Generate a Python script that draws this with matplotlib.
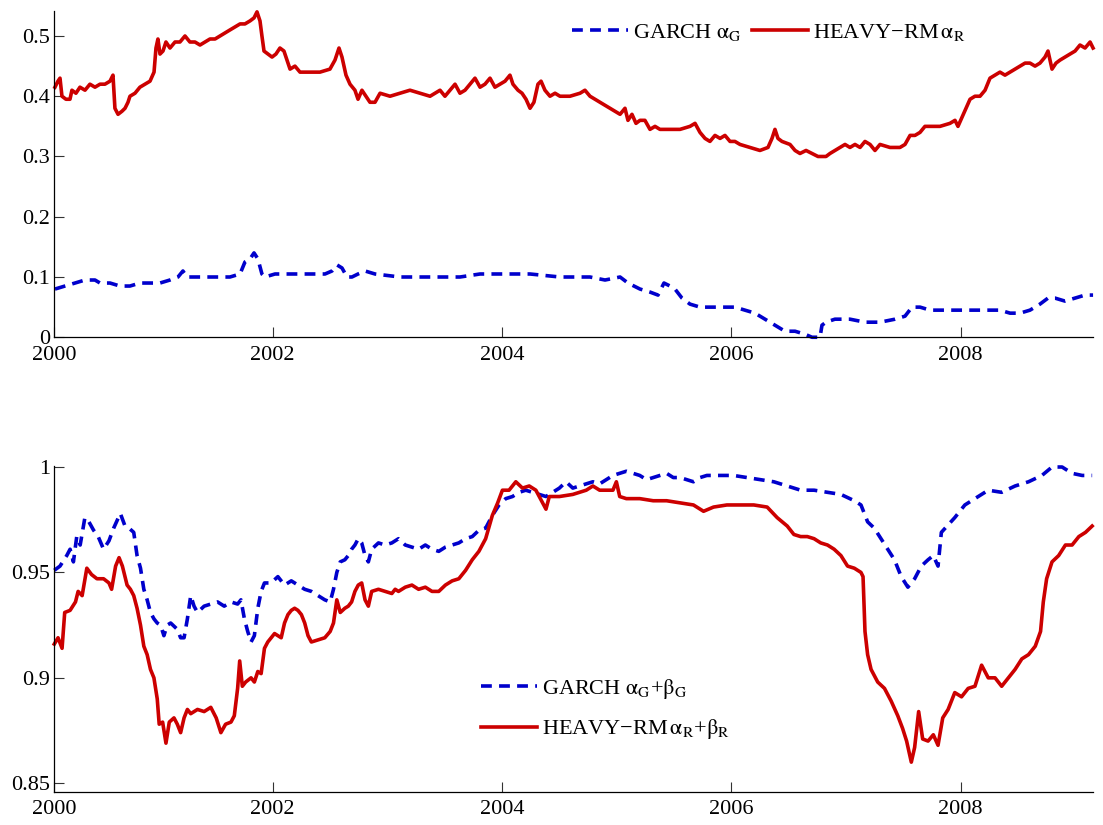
import matplotlib
matplotlib.use("Agg")
import matplotlib.pyplot as plt
from matplotlib.ticker import FixedLocator, FixedFormatter

plt.rcParams['font.family'] = ['Liberation Serif', 'DejaVu Serif']
plt.rcParams['mathtext.fontset'] = 'stix'

# ---------------- data (decimal years, values) ----------------
top_heavy_t = [2000.101, 2000.127, 2000.145, 2000.162, 2000.197, 2000.232, 2000.249, 2000.284, 2000.319, 2000.363,
               2000.406, 2000.450, 2000.494, 2000.537, 2000.581, 2000.607, 2000.624, 2000.651, 2000.685, 2000.712,
               2000.738, 2000.755, 2000.799, 2000.842, 2000.886, 2000.930, 2000.965, 2000.982, 2000.999, 2001.017,
               2001.043, 2001.069, 2001.104, 2001.148, 2001.191, 2001.235, 2001.278, 2001.322, 2001.366, 2001.409,
               2001.453, 2001.497, 2001.540, 2001.584, 2001.627, 2001.671, 2001.715, 2001.758, 2001.802, 2001.837,
               2001.863, 2001.889, 2001.906, 2001.924, 2001.959, 2001.994, 2002.028, 2002.063, 2002.098, 2002.124,
               2002.151, 2002.194, 2002.238, 2002.325, 2002.412, 2002.499, 2002.543, 2002.578, 2002.604, 2002.639,
               2002.674, 2002.717, 2002.744, 2002.778, 2002.813, 2002.848, 2002.892, 2002.936, 2003.023, 2003.110,
               2003.197, 2003.284, 2003.372, 2003.459, 2003.502, 2003.546, 2003.590, 2003.633, 2003.677, 2003.720,
               2003.764, 2003.808, 2003.851, 2003.895, 2003.938, 2003.982, 2004.026, 2004.069, 2004.095, 2004.139,
               2004.174, 2004.209, 2004.244, 2004.278, 2004.313, 2004.340, 2004.374, 2004.418, 2004.462, 2004.505,
               2004.592, 2004.680, 2004.723, 2004.767, 2004.810, 2004.854, 2004.898, 2004.941, 2004.985, 2005.029,
               2005.072, 2005.098, 2005.133, 2005.168, 2005.203, 2005.246, 2005.290, 2005.334, 2005.377, 2005.465,
               2005.552, 2005.639, 2005.683, 2005.726, 2005.770, 2005.813, 2005.857, 2005.901, 2005.944, 2005.988,
               2006.031, 2006.075, 2006.162, 2006.249, 2006.319, 2006.354, 2006.380, 2006.406, 2006.441, 2006.511,
               2006.555, 2006.598, 2006.651, 2006.703, 2006.755, 2006.790, 2006.825, 2006.860, 2006.903, 2006.947,
               2006.991, 2007.034, 2007.078, 2007.122, 2007.165, 2007.209, 2007.252, 2007.296, 2007.383, 2007.470,
               2007.514, 2007.558, 2007.601, 2007.645, 2007.688, 2007.732, 2007.819, 2007.906, 2007.950, 2007.976,
               2008.011, 2008.046, 2008.081, 2008.124, 2008.168, 2008.212, 2008.255, 2008.299, 2008.342, 2008.386,
               2008.430, 2008.473, 2008.517, 2008.561, 2008.604, 2008.648, 2008.691, 2008.735, 2008.761, 2008.796,
               2008.831, 2008.866, 2008.909, 2008.953, 2008.997, 2009.040, 2009.084, 2009.128, 2009.154]
top_heavy_v = [0.415, 0.425, 0.43, 0.40, 0.395, 0.395, 0.41, 0.405, 0.415, 0.41,
               0.42, 0.415, 0.42, 0.42, 0.425, 0.435, 0.38, 0.37, 0.375, 0.38,
               0.39, 0.40, 0.405, 0.415, 0.42, 0.425, 0.44, 0.48, 0.495, 0.47,
               0.475, 0.49, 0.48, 0.49, 0.49, 0.50, 0.49, 0.49, 0.485, 0.49,
               0.495, 0.495, 0.50, 0.505, 0.51, 0.515, 0.52, 0.52, 0.525, 0.53,
               0.54, 0.525, 0.50, 0.475, 0.47, 0.465, 0.47, 0.48, 0.475, 0.46,
               0.445, 0.45, 0.44, 0.44, 0.44, 0.445, 0.46, 0.48, 0.465, 0.435,
               0.42, 0.41, 0.395, 0.41, 0.40, 0.39, 0.39, 0.405, 0.40, 0.405,
               0.41, 0.405, 0.40, 0.41, 0.40, 0.41, 0.42, 0.405, 0.41, 0.42,
               0.43, 0.415, 0.42, 0.43, 0.415, 0.42, 0.425, 0.435, 0.42, 0.41,
               0.405, 0.395, 0.38, 0.39, 0.42, 0.425, 0.41, 0.40, 0.405, 0.40,
               0.40, 0.405, 0.41, 0.40, 0.395, 0.39, 0.385, 0.38, 0.375, 0.37,
               0.38, 0.36, 0.37, 0.355, 0.36, 0.36, 0.345, 0.35, 0.345, 0.345,
               0.345, 0.35, 0.355, 0.34, 0.33, 0.325, 0.335, 0.33, 0.335, 0.325,
               0.325, 0.32, 0.315, 0.31, 0.315, 0.33, 0.345, 0.33, 0.325, 0.32,
               0.31, 0.305, 0.31, 0.305, 0.30, 0.30, 0.30, 0.305, 0.31, 0.315,
               0.32, 0.315, 0.32, 0.315, 0.325, 0.32, 0.31, 0.32, 0.315, 0.315,
               0.32, 0.335, 0.335, 0.34, 0.35, 0.35, 0.35, 0.355, 0.36, 0.35,
               0.365, 0.38, 0.395, 0.40, 0.40, 0.41, 0.43, 0.435, 0.44, 0.435,
               0.44, 0.445, 0.45, 0.455, 0.455, 0.45, 0.455, 0.465, 0.475, 0.445,
               0.455, 0.46, 0.465, 0.47, 0.475, 0.485, 0.48, 0.49, 0.48]

top_garch_t = [2000.101, 2000.188, 2000.276, 2000.363, 2000.450, 2000.494, 2000.581, 2000.668, 2000.755, 2000.842,
               2000.930, 2001.017, 2001.104, 2001.174, 2001.217, 2001.252, 2001.322, 2001.453, 2001.627, 2001.715,
               2001.758, 2001.802, 2001.837, 2001.871, 2001.906, 2001.932, 2002.020, 2002.151, 2002.325, 2002.456,
               2002.517, 2002.561, 2002.604, 2002.648, 2002.691, 2002.744, 2002.805, 2002.892, 2003.110, 2003.372,
               2003.633, 2003.808, 2003.982, 2004.244, 2004.505, 2004.767, 2004.898, 2005.029, 2005.098, 2005.203,
               2005.290, 2005.360, 2005.412, 2005.465, 2005.508, 2005.569, 2005.639, 2005.726, 2005.901, 2006.031,
               2006.118, 2006.206, 2006.293, 2006.380, 2006.467, 2006.555, 2006.642, 2006.703, 2006.773, 2006.790,
               2006.825, 2006.903, 2007.034, 2007.165, 2007.296, 2007.427, 2007.514, 2007.575, 2007.645, 2007.732,
               2007.994, 2008.168, 2008.342, 2008.430, 2008.517, 2008.604, 2008.691, 2008.761, 2008.822, 2008.909,
               2008.997, 2009.084, 2009.154]
top_garch_v = [0.08, 0.085, 0.09, 0.095, 0.095, 0.09, 0.09, 0.085, 0.085, 0.09,
               0.09, 0.09, 0.095, 0.10, 0.11, 0.10, 0.10, 0.10, 0.10, 0.105,
               0.125, 0.13, 0.14, 0.13, 0.105, 0.10, 0.105, 0.105, 0.105, 0.105,
               0.11, 0.12, 0.115, 0.10, 0.10, 0.105, 0.11, 0.105, 0.10, 0.10,
               0.10, 0.105, 0.105, 0.105, 0.10, 0.10, 0.095, 0.10, 0.09, 0.08,
               0.075, 0.07, 0.09, 0.085, 0.08, 0.065, 0.055, 0.05, 0.05, 0.05,
               0.045, 0.04, 0.03, 0.02, 0.01, 0.01, 0.005, 0.0, 0.0, 0.02,
               0.025, 0.03, 0.03, 0.025, 0.025, 0.03, 0.035, 0.05, 0.05, 0.045,
               0.045, 0.045, 0.045, 0.04, 0.04, 0.045, 0.055, 0.065, 0.065, 0.06,
               0.065, 0.07, 0.07]

bot_garch_t = [2000.095, 2000.145, 2000.204, 2000.233, 2000.262, 2000.291, 2000.321, 2000.362, 2000.397, 2000.438,
               2000.478, 2000.525, 2000.572, 2000.613, 2000.671, 2000.712, 2000.747, 2000.788, 2000.817, 2000.847,
               2000.876, 2000.905, 2000.934, 2000.964, 2000.993, 2001.022, 2001.051, 2001.080, 2001.110, 2001.168,
               2001.197, 2001.227, 2001.256, 2001.285, 2001.314, 2001.344, 2001.402, 2001.460, 2001.519, 2001.577,
               2001.636, 2001.694, 2001.723, 2001.753, 2001.782, 2001.811, 2001.840, 2001.870, 2001.899, 2001.928,
               2001.986, 2002.045, 2002.103, 2002.162, 2002.220, 2002.279, 2002.337, 2002.396, 2002.454, 2002.501,
               2002.530, 2002.559, 2002.589, 2002.629, 2002.659, 2002.688, 2002.717, 2002.746, 2002.776, 2002.805,
               2002.834, 2002.863, 2002.922, 2002.980, 2003.039, 2003.097, 2003.156, 2003.214, 2003.272, 2003.331,
               2003.389, 2003.448, 2003.506, 2003.565, 2003.623, 2003.682, 2003.740, 2003.798, 2003.857, 2003.915,
               2003.974, 2004.032, 2004.091, 2004.149, 2004.207, 2004.266, 2004.324, 2004.383, 2004.441, 2004.500,
               2004.558, 2004.617, 2004.675, 2004.734, 2004.792, 2004.851, 2004.909, 2004.967, 2005.026, 2005.084,
               2005.143, 2005.201, 2005.260, 2005.318, 2005.377, 2005.435, 2005.493, 2005.552, 2005.610, 2005.669,
               2005.727, 2005.786, 2005.903, 2006.019, 2006.136, 2006.253, 2006.370, 2006.487, 2006.604, 2006.721,
               2006.838, 2006.955, 2007.072, 2007.130, 2007.159, 2007.188, 2007.246, 2007.305, 2007.364, 2007.422,
               2007.481, 2007.539, 2007.598, 2007.656, 2007.715, 2007.761, 2007.802, 2007.831, 2007.948, 2008.036,
               2008.124, 2008.240, 2008.357, 2008.474, 2008.591, 2008.708, 2008.796, 2008.884, 2008.971, 2009.059,
               2009.146]
bot_garch_v = [0.951, 0.953, 0.958, 0.961, 0.955, 0.967, 0.963, 0.976, 0.974, 0.970,
               0.967, 0.961, 0.965, 0.971, 0.978, 0.972, 0.971, 0.969, 0.958, 0.952,
               0.942, 0.937, 0.931, 0.928, 0.926, 0.925, 0.920, 0.925, 0.926, 0.923,
               0.919, 0.919, 0.928, 0.939, 0.934, 0.931, 0.934, 0.935, 0.936, 0.934,
               0.936, 0.935, 0.937, 0.928, 0.922, 0.917, 0.920, 0.933, 0.941, 0.945,
               0.945, 0.948, 0.944, 0.946, 0.944, 0.942, 0.941, 0.939, 0.937, 0.936,
               0.942, 0.950, 0.955, 0.956, 0.958, 0.961, 0.963, 0.966, 0.964, 0.958,
               0.955, 0.961, 0.964, 0.963, 0.964, 0.966, 0.963, 0.962, 0.961, 0.963,
               0.961, 0.960, 0.962, 0.963, 0.964, 0.966, 0.967, 0.970, 0.971, 0.977,
               0.982, 0.985, 0.986, 0.988, 0.989, 0.988, 0.987, 0.986, 0.988, 0.990,
               0.993, 0.990, 0.991, 0.992, 0.993, 0.992, 0.994, 0.996, 0.997, 0.998,
               0.997, 0.996, 0.994, 0.995, 0.996, 0.997, 0.995, 0.995, 0.994, 0.993,
               0.995, 0.996, 0.996, 0.996, 0.995, 0.994, 0.993, 0.991, 0.989, 0.989,
               0.988, 0.987, 0.984, 0.982, 0.978, 0.974, 0.971, 0.966, 0.961, 0.956,
               0.948, 0.943, 0.947, 0.953, 0.956, 0.958, 0.953, 0.969, 0.976, 0.982,
               0.985, 0.989, 0.988, 0.991, 0.993, 0.996, 1.000, 1.000, 0.997, 0.996,
               0.996]

bot_heavy_t = [2000.095, 2000.128, 2000.163, 2000.186, 2000.233, 2000.280, 2000.303, 2000.338, 2000.379, 2000.420,
               2000.467, 2000.525, 2000.572, 2000.595, 2000.630, 2000.660, 2000.689, 2000.730, 2000.759, 2000.788,
               2000.817, 2000.847, 2000.876, 2000.905, 2000.934, 2000.964, 2000.993, 2001.010, 2001.040, 2001.069,
               2001.098, 2001.139, 2001.168, 2001.197, 2001.227, 2001.256, 2001.285, 2001.314, 2001.344, 2001.402,
               2001.460, 2001.507, 2001.548, 2001.589, 2001.636, 2001.665, 2001.694, 2001.712, 2001.735, 2001.764,
               2001.811, 2001.840, 2001.870, 2001.899, 2001.928, 2001.957, 2001.986, 2002.016, 2002.045, 2002.074,
               2002.103, 2002.133, 2002.162, 2002.191, 2002.220, 2002.250, 2002.279, 2002.308, 2002.337, 2002.396,
               2002.454, 2002.501, 2002.530, 2002.559, 2002.589, 2002.629, 2002.659, 2002.688, 2002.717, 2002.746,
               2002.776, 2002.805, 2002.834, 2002.863, 2002.922, 2002.980, 2003.039, 2003.068, 2003.097, 2003.156,
               2003.214, 2003.272, 2003.331, 2003.389, 2003.448, 2003.506, 2003.565, 2003.623, 2003.682, 2003.740,
               2003.798, 2003.857, 2003.915, 2003.962, 2004.003, 2004.061, 2004.120, 2004.178, 2004.237, 2004.295,
               2004.354, 2004.383, 2004.412, 2004.500, 2004.617, 2004.675, 2004.734, 2004.792, 2004.851, 2004.909,
               2004.967, 2004.997, 2005.026, 2005.084, 2005.201, 2005.318, 2005.435, 2005.552, 2005.669, 2005.757,
               2005.844, 2005.961, 2006.078, 2006.195, 2006.312, 2006.399, 2006.487, 2006.545, 2006.604, 2006.662,
               2006.721, 2006.779, 2006.838, 2006.896, 2006.955, 2007.013, 2007.072, 2007.130, 2007.148, 2007.165,
               2007.188, 2007.218, 2007.276, 2007.335, 2007.393, 2007.451, 2007.493, 2007.528, 2007.569, 2007.598,
               2007.633, 2007.668, 2007.715, 2007.761, 2007.802, 2007.843, 2007.890, 2007.948, 2008.007, 2008.065,
               2008.124, 2008.182, 2008.240, 2008.299, 2008.357, 2008.416, 2008.474, 2008.533, 2008.591, 2008.650,
               2008.696, 2008.720, 2008.749, 2008.796, 2008.854, 2008.913, 2008.971, 2009.030, 2009.088, 2009.146]
bot_heavy_v = [0.916, 0.919, 0.914, 0.931, 0.932, 0.936, 0.941, 0.939, 0.952, 0.949,
               0.947, 0.947, 0.945, 0.942, 0.953, 0.957, 0.953, 0.944, 0.942, 0.939,
               0.933, 0.925, 0.915, 0.911, 0.904, 0.900, 0.890, 0.878, 0.879, 0.869,
               0.879, 0.881, 0.878, 0.874, 0.881, 0.885, 0.883, 0.884, 0.885, 0.884,
               0.886, 0.881, 0.874, 0.878, 0.879, 0.882, 0.895, 0.908, 0.896, 0.898,
               0.900, 0.898, 0.903, 0.902, 0.914, 0.917, 0.919, 0.921, 0.920, 0.919,
               0.926, 0.930, 0.932, 0.933, 0.932, 0.930, 0.926, 0.920, 0.917, 0.918,
               0.919, 0.922, 0.926, 0.937, 0.931, 0.933, 0.934, 0.936, 0.941, 0.944,
               0.945, 0.937, 0.934, 0.941, 0.942, 0.941, 0.940, 0.942, 0.941, 0.943,
               0.944, 0.942, 0.943, 0.941, 0.941, 0.944, 0.946, 0.947, 0.951, 0.956,
               0.960, 0.966, 0.977, 0.983, 0.989, 0.989, 0.993, 0.990, 0.991, 0.989,
               0.983, 0.980, 0.986, 0.986, 0.987, 0.988, 0.989, 0.991, 0.989, 0.989,
               0.989, 0.993, 0.986, 0.985, 0.985, 0.984, 0.984, 0.983, 0.982, 0.979,
               0.981, 0.982, 0.982, 0.982, 0.981, 0.976, 0.972, 0.968, 0.967, 0.967,
               0.966, 0.964, 0.963, 0.961, 0.958, 0.953, 0.952, 0.950, 0.948, 0.922,
               0.911, 0.904, 0.898, 0.895, 0.889, 0.882, 0.876, 0.870, 0.860, 0.867,
               0.884, 0.871, 0.870, 0.873, 0.868, 0.881, 0.885, 0.893, 0.891, 0.895,
               0.896, 0.906, 0.900, 0.900, 0.896, 0.900, 0.904, 0.909, 0.911, 0.915,
               0.922, 0.936, 0.947, 0.955, 0.958, 0.963, 0.963, 0.967, 0.969, 0.972]

x_ticks = [2000.095, 2002, 2004, 2006, 2008]
x_ticklabels = ['2000', '2002', '2004', '2006', '2008']
top_yticks = [0, 0.1, 0.2, 0.3, 0.4, 0.5]
top_yticklabels = ['0', '0.1', '0.2', '0.3', '0.4', '0.5']
bot_yticks = [0.85, 0.9, 0.95, 1.0]
bot_yticklabels = ['0.85', '0.9', '0.95', '1']

top_labels = ['GARCH $\\mathrm{\\alpha}_{\\mathrm{G}}$', 'HEAVY\u2212RM$\\,\\mathrm{\\alpha}_{\\mathrm{R}}$']
bot_labels = ['GARCH $\\mathrm{\\alpha}_{\\mathrm{G}}$+$\\mathrm{\\beta}_{\\mathrm{G}}$',
              'HEAVY\u2212RM$\\,\\mathrm{\\alpha}_{\\mathrm{R}}$+$\\mathrm{\\beta}_{\\mathrm{R}}$']

# ---------------- styling ----------------
BLUE = (0.0, 0.0, 0.8)
RED = (0.8, 0.0, 0.0)
LW = 2.6
DASH = (3.0, 2.0)
FS = 16

fig = plt.figure(figsize=(11.03, 8.25), dpi=100)
ax1 = fig.add_axes([0.0492, 0.5912, 0.9420, 0.3955])
ax2 = fig.add_axes([0.0492, 0.0404, 0.9420, 0.3948])

def style(ax, yticks, yticklabels, ylim):
    ax.set_xlim(2000.095, 2009.156)
    ax.set_ylim(*ylim)
    for s in ('top', 'right'):
        ax.spines[s].set_visible(False)
    for s in ('left', 'bottom'):
        ax.spines[s].set_linewidth(0.9)
    ax.xaxis.set_major_locator(FixedLocator(x_ticks))
    ax.xaxis.set_major_formatter(FixedFormatter(x_ticklabels))
    ax.yaxis.set_major_locator(FixedLocator(yticks))
    ax.yaxis.set_major_formatter(FixedFormatter(yticklabels))
    ax.tick_params(axis='both', direction='in', length=7, width=0.8, labelsize=FS, color='#333333')
    ax.tick_params(axis='x', pad=6)
    ax.tick_params(axis='y', pad=3)

l1, = ax1.plot(top_garch_t, top_garch_v, color=BLUE, lw=LW, dashes=DASH)
l2, = ax1.plot(top_heavy_t, top_heavy_v, color=RED, lw=LW)
style(ax1, top_yticks, top_yticklabels, (0, 0.5415))
for ln in (l1, l2):
    ln.set_clip_on(False)
ax1.legend([l1, l2], top_labels, ncol=2, frameon=False, fontsize=FS,
           loc='center left', bbox_to_anchor=(0.5186, 0.9612), bbox_transform=fig.transFigure,
           borderpad=0, borderaxespad=0, handlelength=2.5, handletextpad=0.25, columnspacing=0.45)

m1, = ax2.plot(bot_garch_t, bot_garch_v, color=BLUE, lw=LW, dashes=DASH)
m2, = ax2.plot(bot_heavy_t, bot_heavy_v, color=RED, lw=LW)
style(ax2, bot_yticks, bot_yticklabels, (0.846, 1.0005))
for ln in (m1, m2):
    ln.set_clip_on(False)
ax2.legend([m1, m2], bot_labels, ncol=1, frameon=False, fontsize=FS,
           loc='center left', bbox_to_anchor=(0.4361, 0.1406), bbox_transform=fig.transFigure,
           borderpad=0, borderaxespad=0, handlelength=2.5, handletextpad=0.25, labelspacing=0.75)

fig.savefig('out.png', dpi=100)
